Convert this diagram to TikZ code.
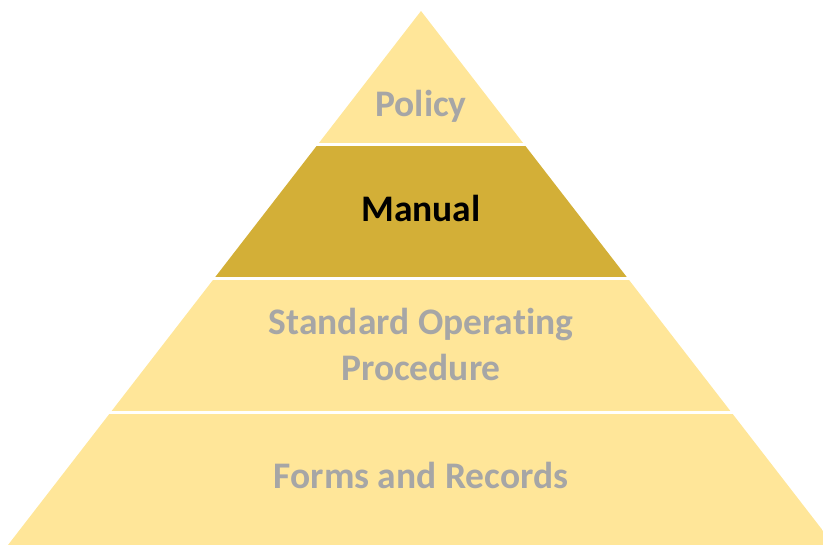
\documentclass[tikz,border=0pt]{standalone}
\usepackage{fontspec}
\setmainfont{Carlito}[Ligatures=NoCommon]
\usepackage{tikz}
\definecolor{bandlight}{RGB}{255,230,153}
\definecolor{banddark}{RGB}{211,175,55}
\definecolor{labelgray}{RGB}{166,166,166}
\tikzset{
	lbl/.style={anchor=base, font=\fontsize{37.5}{45}\selectfont\bfseries, text=labelgray, inner sep=0pt},
}

\begin{document}
\begin{tikzpicture}[x=1pt, y=1pt]
		%%%%% START %%%%%
		\useasboundingbox (0, 0) rectangle (823, 545);
		
		\begin{scope}
			\clip (8, 0) -- (421, 534) -- (834, 0) -- cycle;
			\fill[bandlight] (0, 402) rectangle (823, 534);
			\fill[banddark] (0, 268) rectangle (823, 399);
			\fill[bandlight] (0, 134) rectangle (823, 265);
			\fill[bandlight] (0, 0) rectangle (823, 131);
		\end{scope}
		
		\node[lbl] (policy) at (421, 428.5) {Policy};
		\node[lbl, text=black] (manual) at (421, 323) {Manual};
		\node[lbl] (sopA) at (421, 210) {Standard Operating};
		\node[lbl] (sopB) at (421, 164) {Procedure};
		\node[lbl] (forms) at (421, 56) {Forms and Records};
		
		%%%%% END %%%%%
\end{tikzpicture}
\end{document}
